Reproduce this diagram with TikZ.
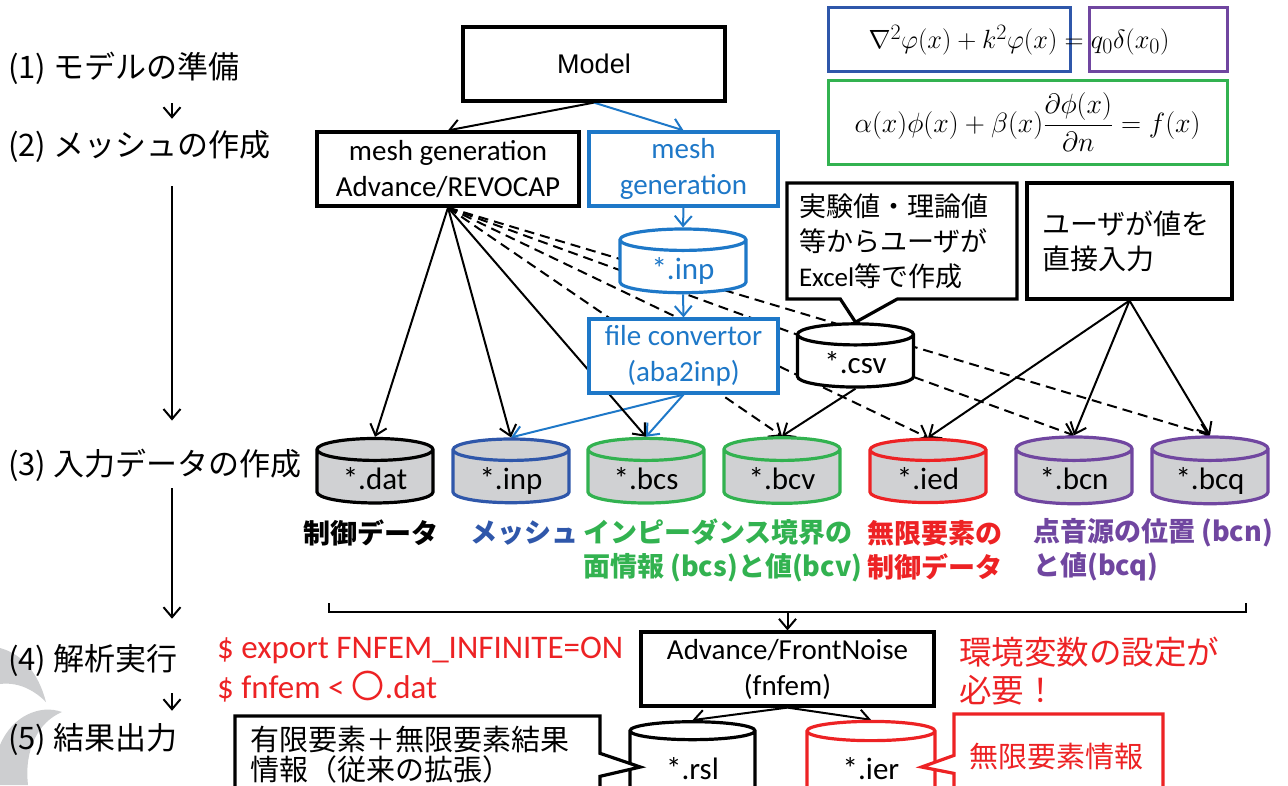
\documentclass[tikz,border=0pt]{standalone}
\usepackage{fontspec}
\setmainfont{Carlito}
\newfontfamily\jp{Noto Sans CJK JP}
\newfontfamily\arialfont{Liberation Sans}
\usetikzlibrary{shapes.geometric,shapes.callouts,arrows.meta}
\definecolor{mblue}{RGB}{30,120,200}
\definecolor{dblue}{RGB}{47,87,170}
\definecolor{mgreen}{RGB}{50,178,80}
\definecolor{mred}{RGB}{237,34,36}
\definecolor{mpurple}{RGB}{112,70,160}
\definecolor{cylgray}{RGB}{208,209,211}
\definecolor{swoosh}{RGB}{205,206,208}
\pgfdeclarelayer{bg}
\pgfsetlayers{bg,main}
\tikzset{
  box/.style={draw, line width=3.2pt, fill=white, align=center, font=\fontsize{29}{36}\selectfont},
  cyl/.style={cylinder, shape border rotate=90, aspect=0.34, draw, line width=3.2pt,
    minimum width=116pt, minimum height=60pt, inner sep=0pt, text height=27pt, text depth=3pt,
    font=\fontsize{31}{36}\selectfont},
  callbox/.style={rectangle callout, draw, line width=3.2pt, fill=white, align=left},
  arr/.style={-{Straight Barb[length=10pt,width=17pt,line width=2pt]}, line width=2pt},
  dash line/.style={arr, dash pattern=on 10pt off 6pt},
  step label/.style={anchor=west, inner sep=0pt, font=\jp\fontsize{31}{36}\selectfont},
  note/.style={anchor=west, align=left, inner sep=0pt, font=\jp\bfseries\fontsize{27}{34}\selectfont}
}
\begin{document}
\begin{tikzpicture}[x=1pt,y=-1pt]
\path[use as bounding box] (0,0) rectangle (1288,785);
\clip (0,0) rectangle (1288,785);

% template swooshes, bottom left
\fill[swoosh] (0,648) .. controls (22,654) and (38,672) .. (46,702)
  .. controls (32,688) and (16,682) .. (0,684) -- cycle;
\fill[swoosh] (0,745) .. controls (12,716) and (40,704) .. (62,712)
  .. controls (38,722) and (24,750) .. (28,785) -- (0,785) -- cycle;

% steps on the left
\node[step label] (s1) at (8,68) {(1) モデルの準備};
\node[step label] (s2) at (8,147) {(2) メッシュの作成};
\node[step label] (s3) at (8,465) {(3) 入力データの作成};
\node[step label] (s4) at (8,660) {(4) 解析実行};
\node[step label] (s5) at (8,740) {(5) 結果出力};
\coordinate (ax) at (172,0);
\draw[arr, shorten <=19pt, shorten >=12pt] (s1.south -| ax) -- (s2.north -| ax);
\draw[arr, shorten <=23pt, shorten >=28pt] (s2.south -| ax) -- (s3.north -| ax);
\draw[arr, shorten <=7pt, shorten >=25pt] (s3.south -| ax) -- (s4.north -| ax);
\draw[arr, shorten <=17pt, shorten >=13pt] (s4.south -| ax) -- (s5.north -| ax);

% equations
\node[draw=dblue, line width=3pt, minimum width=242pt, minimum height=64pt] (eqa) at (949,39) {};
\node[draw=mpurple, line width=3pt, minimum width=138pt, minimum height=64pt] (eqb) at (1158,39) {};
\node[font=\fontsize{24.88}{30}\selectfont] (eq1) at (1019,40)
  {\scalebox{1.06}{$\nabla^2\varphi(x)+k^2\varphi(x)=q_0\delta(x_0)$}};
\node[draw=mgreen, line width=3pt, minimum width=399pt, minimum height=84pt,
  font=\fontsize{24.88}{30}\selectfont] (eqc) at (1027.5,122)
  {\scalebox{1.12}{$\alpha(x)\phi(x)+\beta(x)\displaystyle\frac{\partial\phi(x)}{\partial n}=f(x)$}};

% mesh generation
\node[box, minimum width=262pt, minimum height=74pt, font=\arialfont\fontsize{27}{32}\selectfont] (model) at (594,64) {Model};
\node[box, minimum width=262pt, minimum height=74pt] (revo) at (448,169) {mesh generation\\Advance/REVOCAP};
\node[box, draw=mblue, text=mblue, minimum width=189pt, minimum height=74pt] (gen) at (683.5,169) {mesh\\generation};
\node[cyl, draw=mblue, text=mblue, fill=white, minimum width=126pt] (inpa) at (683,267) {*.inp};
\node[box, draw=mblue, text=mblue, minimum width=189pt, minimum height=74pt] (conv) at (683.5,356) {file convertor\\(aba2inp)};
\node[cyl, fill=white, minimum height=63pt] (csv) at (855.5,361.5) {*.csv};
\node[callbox, minimum width=230pt, minimum height=116pt, inner xsep=12pt, text width=206pt,
  callout absolute pointer={(csv.north)}, callout pointer width=57pt,
  font=\jp\fontsize{27}{35}\selectfont] (exp) at (902,241)
  {実験値・理論値\\等からユーザが\\{\rmfamily Excel}等で作成};
\node[box, align=left, minimum width=205pt, minimum height=116pt, inner xsep=15pt, text width=175pt,
  font=\jp\fontsize{28}{35}\selectfont] (user) at (1129.5,241) {ユーザが値を\\直接入力};

% input files
\foreach \n/\x/\c/\e in {dat/375/black/dat, inpb/511/dblue/inp, bcs/646/mgreen/bcs, bcv/782/mgreen/bcv,
  ied/928/mred/ied, bcn/1074/mpurple/bcn, bcq/1210/mpurple/bcq}
  \node[cyl, draw=\c, fill=cylgray] (\n) at (\x,477) {*.\e};

\node[note] (ldat) at (303,533) {制御データ};
\node[note, text=dblue] (lmesh) at (470,533) {メッシュ};
\node[note, text=mgreen] (lbc) at (583,550) {インピーダンス境界の\\面情報 (bcs)と値(bcv)};
\node[note, text=mred] (lied) at (867,550) {無限要素の\\制御データ};
\node[note, text=mpurple] (lpt) at (1033,550) {点音源の位置 (bcn)\\と値(bcq)};

% solver
\draw[line width=2pt] (329,603) -- (329,612) -- (1246,612) -- (1246,603);
\coordinate (brk) at (787.5,612);
\node[box, minimum width=293pt, minimum height=74pt] (fn) at (787.5,669) {Advance/FrontNoise\\(fnfem)};
\node[anchor=west, align=left, text=mred, inner sep=0pt, font=\fontsize{33}{40}\selectfont] (cmd) at (217,670)
  {\$ export FNFEM\_INFINITE=ON\\\$ fnfem < {\jp 〇}.dat};
\node[anchor=west, align=left, text=mred, inner sep=0pt, font=\jp\fontsize{32.5}{38}\selectfont] (env) at (959,671)
  {環境変数の設定が\\必要！};

% results
\node[cyl, fill=white, minimum width=125pt, minimum height=80pt] (rsl) at (692.5,767) {*.rsl};
\node[cyl, draw=mred, fill=white, minimum width=128pt, minimum height=80pt] (ier) at (871,767) {*.ier};
\node[callbox, minimum width=365pt, minimum height=78pt, inner xsep=15pt, text width=335pt,
  callout absolute pointer={([xshift=12pt]rsl.west)}, callout pointer width=23pt,
  font=\jp\fontsize{29}{30}\selectfont] (fin) at (417.5,755)
  {有限要素＋無限要素結果\\情報（従来の拡張）};
\node[callbox, draw=mred, text=mred, minimum width=209pt, minimum height=84pt, inner xsep=15pt, text width=179pt,
  callout absolute pointer={([xshift=-15pt]ier.east)}, callout pointer width=18pt,
  font=\jp\fontsize{29}{31}\selectfont] (inf) at (1058.5,756) {無限要素情報};

% connectors
\begin{pgfonlayer}{bg}
\draw[arr] (model.south) -- (revo.north);
\draw[arr, mblue] (model.south) -- (gen.north);
\draw[arr, mblue] (gen.south) -- (inpa.north);
\draw[arr, mblue] (inpa.south) -- (conv.north);
\draw[arr, mblue] (conv.south) -- (inpb.north);
\draw[arr, mblue] (conv.south) -- (bcs.north);
\foreach \t in {dat,inpb,bcs}
  \draw[arr] (revo.south) -- (\t.north);
\foreach \t in {bcv,ied,bcn,bcq}
  \draw[dash line] (revo.south) -- (\t.north);
\draw[arr] (csv.south) -- (bcv.north);
\foreach \t in {ied,bcn,bcq}
  \draw[arr] (user.south) -- (\t.north);
\draw[arr] (brk) -- (fn.north);
\draw[arr] (fn.south) -- (rsl.north);
\draw[arr] (fn.south) -- (ier.north);
\end{pgfonlayer}
\end{tikzpicture}
\end{document}
